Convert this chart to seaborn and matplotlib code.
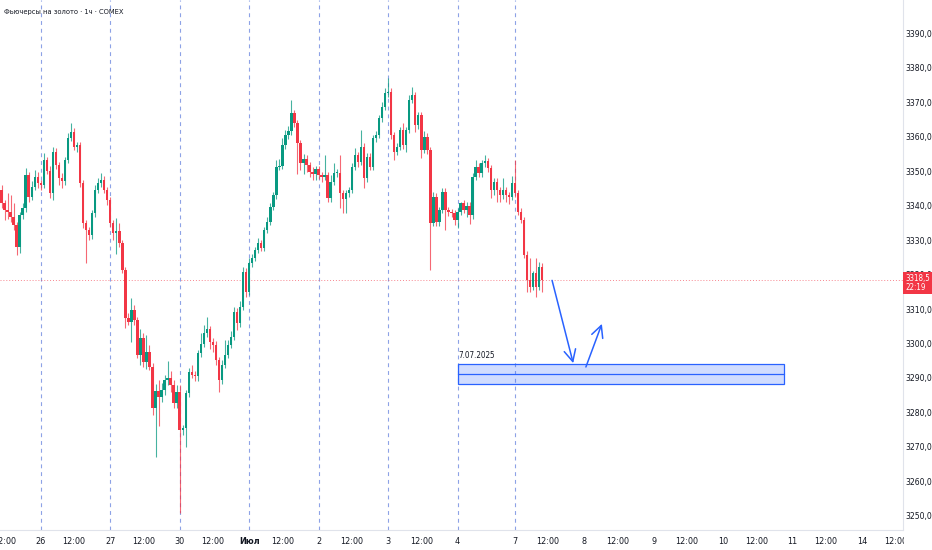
import numpy as np
import pandas as pd
import matplotlib
matplotlib.use("Agg")
import matplotlib.pyplot as plt
import matplotlib.transforms as mtransforms
import matplotlib.font_manager as fm
from matplotlib.patches import Rectangle
from matplotlib.ticker import FuncFormatter, FixedLocator
import seaborn as sns

# ---------------- data (hourly candles) ----------------
first_open = 3344.5

close_jun25 = [3340.7, 3338.7, 3338.0, 3336.8, 3334.3, 3328.1, 3337.2, 3339.2, 3348.8, 3342.6, 3345.5, 3348.3, 3346.5]
close_jun26 = [3346.0, 3353.2, 3350.0, 3343.6, 3355.6, 3351.7, 3348.0, 3347.0, 3353.2, 3359.6, 3361.4, 3357.0,
               3357.5, 3346.5, 3334.9, 3332.9, 3331.4, 3337.8, 3344.5, 3346.5, 3347.5, 3344.5, 3341.6]
close_jun27 = [3334.9, 3332.0, 3332.5, 3329.0, 3321.3, 3307.4, 3306.3, 3309.7, 3306.8, 3296.7, 3301.6, 3294.7,
               3297.6, 3293.3, 3281.3, 3286.3, 3284.6, 3286.5, 3289.4, 3290.0, 3288.0, 3282.8, 3286.0]
close_jun30 = [3275.0, 3275.5, 3285.6, 3291.8, 3290.9, 3290.5, 3297.2, 3300.0, 3303.0, 3304.2, 3300.5, 3299.6,
               3295.2, 3289.4, 3293.8, 3296.7, 3299.6, 3302.0, 3309.2, 3305.9, 3310.7, 3320.8, 3315.0]
close_jul01 = [3323.3, 3324.8, 3327.1, 3329.1, 3327.7, 3332.9, 3335.3, 3339.7, 3343.0, 3351.2, 3351.5, 3357.5,
               3360.4, 3361.5, 3366.7, 3363.8, 3358.0, 3352.2, 3353.5, 3351.7, 3349.8, 3349.0, 3350.5]
close_jul02 = [3348.8, 3348.3, 3348.8, 3342.1, 3346.9, 3349.3, 3349.5, 3343.5, 3342.0, 3343.5, 3344.5, 3351.2,
               3354.6, 3352.7, 3357.0, 3347.9, 3354.2, 3351.2, 3359.5, 3360.5, 3365.3, 3368.6, 3372.5]
close_jul03 = [3373.0, 3360.4, 3355.6, 3357.0, 3361.9, 3357.5, 3361.9, 3370.6, 3372.0, 3363.3, 3366.2, 3356.1,
               3360.0, 3356.0, 3335.0, 3342.5, 3335.2, 3338.7, 3344.0, 3338.7, 3338.0, 3337.8, 3335.8]
close_jul04 = [3338.2, 3340.6, 3338.8, 3340.0, 3337.2, 3348.3, 3351.2, 3349.3, 3352.2, 3352.8, 3350.8, 3344.5,
               3346.9, 3344.5, 3343.0, 3344.5, 3343.0, 3342.5, 3346.6]
close_jul07 = [3343.5, 3338.2, 3335.8, 3325.7, 3318.4, 3316.5, 3320.3, 3316.5, 3322.3, 3318.5]

# upper / lower wick lengths beyond the body (price units)
up_jun25 = [1.5, 1, 5, 5, 4, 1, 1, 1.5, 2, 1, 1.5, 2, 1.5]
up_jun26 = [1, 2, 1, 1.5, 1.5, 1, 1, 1.5, 1, 1.5, 2.5, 1, 1, 1, 1, 1, 1, 1, 1.5, 1.5, 2, 1, 1]
up_jun27 = [1, 1, 4, 2.5, 1, 1, 1.5, 3.5, 1.5, 1, 2.5, 1.5, 5, 2, 1, 2, 3, 2, 1.5, 5, 2, 1.5, 2]
up_jun30 = [2, 1, 1, 1, 2, 1, 1, 3, 2.5, 3.5, 1, 1, 1, 1, 1.5, 4.3, 1.5, 1.5, 1.5, 1, 1.5, 1.5, 1]
up_jul01 = [1.5, 1, 1, 1.5, 1, 1, 1.5, 1, 1, 2, 2, 2, 1.5, 1.5, 3.9, 1, 1, 1, 1.5, 1, 1, 1.5, 1]
up_jul02 = [1, 1, 5.8, 1, 2, 3, 1, 5, 1, 1, 1, 1, 2, 1, 4.9, 1, 1, 1, 1, 1, 1, 1.5, 1.5]
up_jul03 = [4, 1, 1, 1, 1, 2, 1, 1.5, 2.4, 1, 1, 1, 1.5, 1, 1, 1.5, 1, 1, 1, 1, 1, 1, 1]
up_jul04 = [1, 0.5, 1, 1, 1, 1, 2, 1, 1, 1.8, 1, 1, 1, 1, 1, 3.5, 1, 1, 2]
up_jul07 = [6.6, 1, 1, 1, 1, 6.3, 0.7, 4.4, 1.2, 1]

lo_jun25 = [1.5, 3, 2, 1.5, 1.5, 2.4, 2, 1, 1, 1.5, 1, 1, 1.5]
lo_jun26 = [1.5, 1, 1, 1.5, 2, 1, 2, 2, 1, 1, 1, 1, 1.5, 1, 1.5, 9.6, 1.5, 1, 1, 1, 1, 1, 1.5]
lo_jun27 = [1, 2, 6, 1, 1, 3, 1, 5.8, 1.5, 1, 3, 1.5, 2, 1, 2, 14.1, 8.6, 1.5, 1.5, 1.5, 2, 1.5, 1.5]
lo_jun30 = [24.1, 1.5, 5.5, 1, 1, 1.5, 1.5, 1, 1, 1, 2, 2, 1.5, 3.4, 1, 1, 1, 1, 1, 2, 1, 1, 1.5]
lo_jul01 = [1, 1, 1, 1, 1, 1, 1, 1, 1, 1, 1, 1, 1, 1, 1, 1, 9, 2, 3, 2, 1.5, 1.5, 1.5]
lo_jul02 = [1, 1.4, 1, 1, 1, 1, 1, 4.2, 4.2, 4.2, 1, 1, 1, 1.5, 1, 2.9, 1, 1, 1, 1, 1, 1, 1]
lo_jul03 = [1, 1, 2.4, 1, 1, 1, 2, 1, 1, 2, 1, 2.3, 1, 1, 13.7, 1, 1, 1, 1, 5.9, 1, 1, 1.5]
lo_jul04 = [2.3, 1, 1, 2, 2.5, 1, 1, 1, 1, 1, 1, 2.3, 1.5, 3.4, 2, 1, 2, 2, 1]
lo_jul07 = [1, 1, 1, 1, 3.4, 1.5, 1, 2.9, 1, 3.5]

# sessions (bars per session) and x-axis labels
session_labels = ["25", "26", "27", "30", "Июл", "2", "3", "4", "7", "8", "9", "10", "11", "14"]
session_bars = [13, 23, 23, 23, 23, 23, 23, 19, 23, 23, 23, 23, 23, 23]
noon_offset = 11
noon_label = "12:00"

y_ticks = list(range(3250, 3400, 10))
last_price = 3318.5
price_box_text = "3318,5\n22:19"
title_text = "Фьючерсы на золото · 1ч · COMEX"

zone_start_bar, zone_end_bar = 151, 259
zone_low, zone_mid, zone_high = 3288.3, 3291.2, 3294.1
zone_label = "7.07.2025"
arrow_down = ((182.3, 3318.3), (189.3, 3294.3))
arrow_up = ((193.5, 3293.2), (198.8, 3305.7))

# ---------------- build table ----------------
closes = np.array(close_jun25 + close_jun26 + close_jun27 + close_jun30 + close_jul01 +
                  close_jul02 + close_jul03 + close_jul04 + close_jul07)
upw = np.array(up_jun25 + up_jun26 + up_jun27 + up_jun30 + up_jul01 + up_jul02 + up_jul03 + up_jul04 + up_jul07)
low_w = np.array(lo_jun25 + lo_jun26 + lo_jun27 + lo_jun30 + lo_jul01 + lo_jul02 + lo_jul03 + lo_jul04 + lo_jul07)
n = len(closes)
opens = np.concatenate([[first_open], closes[:-1]])
df = pd.DataFrame({"bar": np.arange(n), "open": opens, "close": closes})
df["top"] = df[["open", "close"]].max(axis=1)
df["bot"] = df[["open", "close"]].min(axis=1)
df["high"] = df["top"] + upw
df["low"] = df["bot"] - low_w
df["up"] = df["close"] >= df["open"]

GREEN, RED = "#089981", "#F23645"
colors = np.where(df["up"], GREEN, RED)

starts = [0]
for b in session_bars[:-1]:
    starts.append(starts[-1] + b)
starts = np.array(starts)

# --------------- fonts ----------------
sns.set_theme(style="white")
font_entries = fm.fontManager.ttflist
names = {f.name for f in font_entries}
narrow = False
if "Liberation Sans Narrow" in names:
    plt.rcParams["font.family"] = ["Liberation Sans Narrow", "DejaVu Sans"]
    narrow = True
elif any(f.name == "DejaVu Sans" and f.stretch == "condensed" for f in font_entries):
    plt.rcParams["font.family"] = ["DejaVu Sans"]
    plt.rcParams["font.stretch"] = "condensed"
    narrow = True
else:
    plt.rcParams["font.family"] = ["Liberation Sans", "DejaVu Sans"]
fs = 6.2 if narrow else 5.2

# --------------- figure ----------------
fig = plt.figure(figsize=(9.32, 5.5), dpi=100)
ax = fig.add_axes([0, 20 / 550, 903 / 932, 530 / 550])
ax.set_facecolor("white")

for s in starts[1:9]:
    ax.axvline(s, color="#8da2e6", lw=0.8, ls=(0, (3.5, 3.5)), zorder=1)

ax.vlines(df["bar"], df["low"], df["high"], colors=colors, lw=0.8, alpha=0.75, zorder=2)
heights = np.maximum(df["top"] - df["bot"], 0.3)
ax.bar(df["bar"], heights, bottom=df["bot"], width=0.8, color=colors, linewidth=0, zorder=3)

ax.axhline(last_price, color=RED, lw=0.7, ls=(0, (1, 2)), alpha=0.6, zorder=1)

ax.add_patch(Rectangle((zone_start_bar, zone_low), zone_end_bar - zone_start_bar, zone_high - zone_low,
                       facecolor=(0.16, 0.38, 1.0, 0.22), edgecolor="#2962FF", lw=0.9, zorder=4))
ax.plot([zone_start_bar, zone_end_bar], [zone_mid, zone_mid], color="#2962FF", lw=0.9, zorder=4)
ax.text(zone_start_bar + 0.3, zone_high + 1.1, zone_label, fontsize=fs - 0.4, color="#131722",
        va="bottom", ha="left")

for (p0, p1) in (arrow_down, arrow_up):
    ax.annotate("", xy=p1, xytext=p0,
                arrowprops=dict(arrowstyle="->,head_length=0.7,head_width=0.35", color="#2962FF", lw=1.1,
                                shrinkA=0, shrinkB=0), zorder=5)

ax.set_xlim(-0.5, 298.5)
ax.set_ylim(3245.94, 3399.57)

ax.yaxis.tick_right()
ax.yaxis.set_major_locator(FixedLocator(y_ticks))
ax.yaxis.set_major_formatter(FuncFormatter(lambda v, p: f"{v:.1f}".replace(".", ",")))
ax.tick_params(axis="y", length=0, pad=2.0, labelsize=fs, labelcolor="#131722")

xt, xl = [], []
for lab, s in zip(session_labels, starts):
    if lab != "25":
        xt.append(s)
        xl.append(lab)
    if lab != "4":
        xt.append(s + (1 if lab == "25" else noon_offset))
        xl.append(noon_label)
order = np.argsort(xt)
xt = [xt[i] for i in order]
xl = [xl[i] for i in order]
ax.set_xticks(xt)
ax.set_xticklabels(xl)
ax.tick_params(axis="x", length=0, pad=5, labelsize=fs + 0.3, labelcolor="#131722")
for t in ax.get_xticklabels():
    if t.get_text() == "Июл":
        t.set_fontweight("bold")

for sp in ["top", "left"]:
    ax.spines[sp].set_visible(False)
for sp in ["right", "bottom"]:
    ax.spines[sp].set_color("#e0e3eb")
    ax.spines[sp].set_linewidth(0.8)
ax.grid(False)

trans = mtransforms.blended_transform_factory(ax.transAxes, ax.transData)
ax.text(1.0025, last_price - 1.0, price_box_text, transform=trans, color="white", fontsize=fs - 0.5,
        ha="left", va="center", linespacing=1.0, clip_on=False, zorder=10,
        bbox=dict(boxstyle="square,pad=0.25", fc=RED, ec="none"))

fig.patches.append(Rectangle((903.5 / 932, 0), 29 / 932, 19 / 550, transform=fig.transFigure,
                             facecolor="white", edgecolor="none", zorder=5))

fig.text(4 / 932, 1 - 12 / 550, title_text, fontsize=fs - 0.8, color="#131722",
         va="center", ha="left")

fig.savefig("out.png", dpi=100, facecolor="white")
